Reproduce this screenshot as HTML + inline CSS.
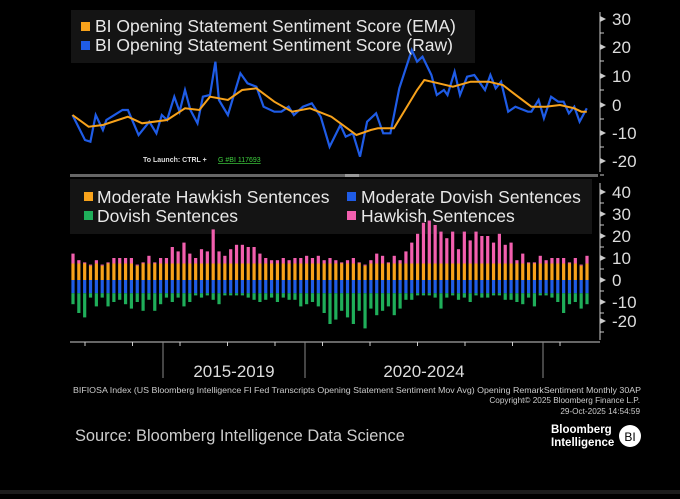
<!DOCTYPE html>
<html><head><meta charset="utf-8"><style>
html,body{margin:0;padding:0;background:#000;}
body{width:680px;height:494px;overflow:hidden;font-family:"Liberation Sans",sans-serif;}
svg text{font-family:"Liberation Sans","DejaVu Sans",sans-serif;}
</style></head><body>
<svg id="s" width="680" height="494" viewBox="0 0 680 494" xmlns="http://www.w3.org/2000/svg">
<rect width="680" height="494" fill="#000"/>
<rect x="0" y="490" width="680" height="4" fill="#1c1c1c"/>
<rect x="71" y="10" width="404" height="53" fill="#141414"/>
<rect x="70" y="179" width="522" height="55" fill="#141414"/>
<rect x="70" y="174" width="528" height="3" fill="#666"/>
<rect x="345" y="174" width="14" height="3" fill="#999"/>
<g id="plots"></g>
<rect x="81" y="22" width="9" height="9" fill="#f7a21b"/>
<text x="95" y="32" fill="#e8e8e8" font-size="17.5">BI Opening Statement Sentiment Score (EMA)</text>
<rect x="81" y="41" width="9" height="9" fill="#1f5ce6"/>
<text x="95" y="51" fill="#e8e8e8" font-size="17.5">BI Opening Statement Sentiment Score (Raw)</text>
<rect x="84" y="192" width="9" height="9" fill="#f7a21b"/>
<text x="97" y="203" fill="#e8e8e8" font-size="17.5">Moderate Hawkish Sentences</text>
<rect x="347" y="192" width="9" height="9" fill="#1f5ce6"/>
<text x="361" y="203" fill="#e8e8e8" font-size="17.5">Moderate Dovish Sentences</text>
<rect x="84" y="211" width="9" height="9" fill="#1fae5a"/>
<text x="97" y="222" fill="#e8e8e8" font-size="17.5">Dovish Sentences</text>
<rect x="347" y="211" width="9" height="9" fill="#f25fae"/>
<text x="361" y="222" fill="#e8e8e8" font-size="17.5">Hawkish Sentences</text>
<text x="143" y="162" fill="#ddd" font-size="7" font-weight="bold">To Launch: CTRL +</text>
<text x="218" y="162" fill="#3ecf3e" font-size="7" text-decoration="underline">G #BI 117693</text>
<line x1="70" y1="342" x2="600" y2="342" stroke="#ccc" stroke-width="1"/>
<line x1="163" y1="342" x2="163" y2="378" stroke="#888"/>
<line x1="305" y1="342" x2="305" y2="378" stroke="#888"/>
<line x1="543" y1="342" x2="543" y2="378" stroke="#888"/>
<text x="234" y="377" fill="#ddd" font-size="17" text-anchor="middle">2015-2019</text>
<text x="424" y="377" fill="#ddd" font-size="17" text-anchor="middle">2020-2024</text>
<text x="73" y="393" fill="#ccc" font-size="8.2" textLength="568" lengthAdjust="spacingAndGlyphs">BIFIOSA Index (US Bloomberg Intelligence FI Fed Transcripts Opening Statement Sentiment Mov Avg) Opening RemarkSentiment Monthly 30AP</text>
<text x="640" y="403" fill="#ccc" font-size="8.2" text-anchor="end">Copyright© 2025 Bloomberg Finance L.P.</text>
<text x="640" y="414" fill="#ccc" font-size="8.2" text-anchor="end">29-Oct-2025 14:54:59</text>
<text x="75" y="441" fill="#ccc" font-size="16.4">Source: Bloomberg Intelligence Data Science</text>
<text x="551" y="433" fill="#fff" font-size="11.5" font-weight="bold">Bloomberg</text>
<text x="551" y="446" fill="#fff" font-size="11.5" font-weight="bold">Intelligence</text>
<circle cx="630" cy="436" r="11" fill="#fff"/>
<text x="630" y="441" fill="#000" font-size="12" text-anchor="middle" font-family="Liberation Serif">BI</text>
</svg>
<script>
const NS="http://www.w3.org/2000/svg",g=document.getElementById('plots');
function el(t,a){const e=document.createElementNS(NS,t);for(const k in a)e.setAttribute(k,a[k]);g.appendChild(e);return e;}
el('line',{x1:600,y1:12,x2:600,y2:172,stroke:'#ccc'});
el('line',{x1:600,y1:183,x2:600,y2:340,stroke:'#ccc'});
[[30,19],[20,47],[10,76],[0,105],[-10,133],[-20,161]].forEach(([v,y])=>{
 el('path',{d:`M600 ${y-3}L606 ${y}L600 ${y+3}Z`,fill:'#ccc'});
 el('line',{x1:600,y1:y+14,x2:604,y2:y+14,stroke:'#ccc'});
 const t=el('text',{x:612,y:y+6,fill:'#ddd','font-size':17});t.textContent=v;});
[[40,192],[30,214],[20,236],[10,258],[0,280],[-10,302],[-20,321]].forEach(([v,y])=>{
 el('path',{d:`M600 ${y-3}L606 ${y}L600 ${y+3}Z`,fill:'#ccc'});
 el('line',{x1:600,y1:y+11,x2:604,y2:y+11,stroke:'#ccc'});
 const t=el('text',{x:612,y:y+6,fill:'#ddd','font-size':17});t.textContent=v;});
for(let x=85;x<600;x+=47.5)el('line',{x1:x,y1:342,x2:x,y2:346,stroke:'#ccc'});
const raw=[[35,345],[70,420],[85,425],[100,345],[120,390],[130,360],[175,330],[190,330],[220,405],[250,365],[270,400],[285,345],[300,360],[320,290],[335,335],[350,270],[365,330],[385,370],[400,290],[420,285],[435,185],[445,300],[470,345],[505,220],[525,250],[550,260],[570,320],[600,335],[620,335],[640,320],[655,345],[680,320],[705,310],[730,350],[755,440],[785,375],[800,410],[820,400],[840,470],[860,365],[885,340],[905,400],[925,400],[950,265],[985,150],[1000,185],[1015,170],[1040,225],[1055,285],[1075,270],[1085,285],[1105,215],[1120,285],[1140,230],[1160,225],[1190,270],[1205,225],[1220,265],[1235,245],[1255,335],[1275,320],[1310,335],[1320,335],[1340,300],[1355,355],[1375,290],[1395,305],[1410,305],[1425,340],[1440,320],[1455,365],[1475,325]];
const ema=[[35,345],[80,380],[120,375],[190,350],[230,370],[300,360],[350,325],[390,330],[420,290],[470,300],[510,270],[550,265],[600,305],[650,335],[700,325],[760,350],[830,405],[870,390],[890,385],[935,385],[1000,270],[1020,240],[1060,250],[1100,260],[1150,245],[1200,245],[1240,255],[1270,280],[1320,320],[1360,320],[1400,315],[1440,325],[1460,335],[1475,335]];
const pts=a=>a.map(([x,y])=>(60+x/2.8).toFixed(1)+','+(y/3).toFixed(1)).join(' ');
el('polyline',{points:pts(raw),fill:'none',stroke:'#1f5ce6','stroke-width':2.2});
el('polyline',{points:pts(ema),fill:'none',stroke:'#f7a21b','stroke-width':2});
const pink=[12,9,8,7,9,7,8,10,10,10,10,7,8,11,8,10,10,15,13,17,12,10,14,13,23,13,11,14,16,16,15,15,12,10,9,9,10,9,10,10,11,10,11,9,10,9,8,9,10,8,7,9,12,11,8,11,9,13,17,21,26,27,25,22,19,22,14,22,18,22,20,20,17,21,16,17,9,12,8,8,11,9,10,10,10,8,10,7,11];
const green=[-11,-15,-17,-8,-12,-8,-12,-10,-9,-11,-13,-10,-14,-9,-14,-11,-8,-10,-8,-12,-10,-7,-8,-5,-9,-11,-6,-4,-5,-6,-8,-9,-10,-9,-8,-10,-8,-9,-9,-12,-11,-10,-12,-15,-20,-18,-14,-17,-20,-14,-22,-13,-16,-14,-12,-16,-13,-9,-9,-6,-7,-7,-8,-13,-8,-7,-9,-8,-10,-7,-8,-8,-7,-6,-9,-9,-10,-11,-8,-12,-5,-7,-8,-10,-15,-11,-10,-13,-11];
const N=pink.length,x0=73,x1=587,st=(x1-x0)/(N-1),Y=v=>280-v*2.2;
for(let i=0;i<N;i++){const x=x0+i*st-1.6,w=3.2;
 const ot=Math.min(7.5,pink[i]-0.5), bb=-6, gb=Math.min(green[i],-7);
 el('rect',{x,y:Y(pink[i]),width:w,height:Y(ot)-Y(pink[i]),fill:'#f25fae'});
 el('rect',{x,y:Y(ot),width:w,height:Y(0)-Y(ot),fill:'#f7a21b'});
 el('rect',{x,y:Y(0),width:w,height:Y(bb)-Y(0),fill:'#1f5ce6'});
 el('rect',{x,y:Y(bb),width:w,height:Y(gb)-Y(bb),fill:'#1fae5a'});}
</script>
</body></html>
